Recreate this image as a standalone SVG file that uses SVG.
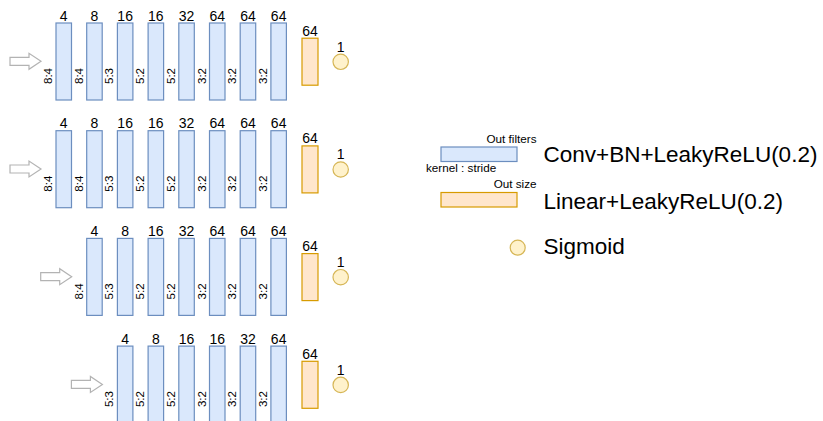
<svg xmlns="http://www.w3.org/2000/svg" width="823" height="421" viewBox="0 0 823 421">
<style>
text{font-family:"Liberation Sans",Arial,Helvetica,sans-serif;fill:#000}
.conv{fill:#dae8fc;stroke:#6c8ebf;stroke-width:1.2}
.lin{fill:#ffe6cc;stroke:#d79b00;stroke-width:1.2}
.sig{fill:#fff2cc;stroke:#d6b656;stroke-width:1.2}
.arr{fill:#fff;stroke:#b3b3b3;stroke-width:1.2}
.t{font-size:14px;text-anchor:middle}
.k{font-size:11.5px;text-anchor:middle}
.ls{font-size:11.7px}
.lb{font-size:22.5px}
</style>
<defs>
<path id="inarrow" class="arr" d="M0,-4 H19 V-8 L31,0 L19,8 V4 H0 Z"/>
</defs>
<rect width="823" height="421" fill="#fff"/>
<g id="connectors">
<use href="#inarrow" transform="translate(10,61.3)"/>
<use href="#inarrow" transform="translate(10,169)"/>
<use href="#inarrow" transform="translate(40.7,276.7)"/>
<use href="#inarrow" transform="translate(71.4,384.4)"/>
</g>
<!-- Row 1 -->
<g id="r1c1"><rect class="conv" x="56" y="23" width="15.5" height="77"/><text class="t" x="63.75" y="20.5">4</text><text class="k" transform="translate(52,76) rotate(-90)">8:4</text></g>
<g id="r1c2"><rect class="conv" x="86.7" y="23" width="15.5" height="77"/><text class="t" x="94.45" y="20.5">8</text><text class="k" transform="translate(82.7,76) rotate(-90)">8:4</text></g>
<g id="r1c3"><rect class="conv" x="117.4" y="23" width="15.5" height="77"/><text class="t" x="125.15" y="20.5">16</text><text class="k" transform="translate(113.4,76) rotate(-90)">5:3</text></g>
<g id="r1c4"><rect class="conv" x="148.1" y="23" width="15.5" height="77"/><text class="t" x="155.85" y="20.5">16</text><text class="k" transform="translate(144.1,76) rotate(-90)">5:2</text></g>
<g id="r1c5"><rect class="conv" x="178.8" y="23" width="15.5" height="77"/><text class="t" x="186.55" y="20.5">32</text><text class="k" transform="translate(174.8,76) rotate(-90)">5:2</text></g>
<g id="r1c6"><rect class="conv" x="209.5" y="23" width="15.5" height="77"/><text class="t" x="217.25" y="20.5">64</text><text class="k" transform="translate(205.5,76) rotate(-90)">3:2</text></g>
<g id="r1c7"><rect class="conv" x="240.2" y="23" width="15.5" height="77"/><text class="t" x="247.95" y="20.5">64</text><text class="k" transform="translate(236.2,76) rotate(-90)">3:2</text></g>
<g id="r1c8"><rect class="conv" x="270.9" y="23" width="15.5" height="77"/><text class="t" x="278.65" y="20.5">64</text><text class="k" transform="translate(266.9,76) rotate(-90)">3:2</text></g>
<g id="r1lin"><rect class="lin" x="302" y="38.2" width="16" height="47"/><text class="t" x="310" y="35.7">64</text></g>
<g id="r1sig"><circle class="sig" cx="340.7" cy="61.8" r="7.7"/><text class="t" x="340.7" y="51.6">1</text></g>
<!-- Row 2 -->
<g id="r2c1"><rect class="conv" x="56" y="130.7" width="15.5" height="77"/><text class="t" x="63.75" y="128.2">4</text><text class="k" transform="translate(52,183.7) rotate(-90)">8:4</text></g>
<g id="r2c2"><rect class="conv" x="86.7" y="130.7" width="15.5" height="77"/><text class="t" x="94.45" y="128.2">8</text><text class="k" transform="translate(82.7,183.7) rotate(-90)">8:4</text></g>
<g id="r2c3"><rect class="conv" x="117.4" y="130.7" width="15.5" height="77"/><text class="t" x="125.15" y="128.2">16</text><text class="k" transform="translate(113.4,183.7) rotate(-90)">5:3</text></g>
<g id="r2c4"><rect class="conv" x="148.1" y="130.7" width="15.5" height="77"/><text class="t" x="155.85" y="128.2">16</text><text class="k" transform="translate(144.1,183.7) rotate(-90)">5:2</text></g>
<g id="r2c5"><rect class="conv" x="178.8" y="130.7" width="15.5" height="77"/><text class="t" x="186.55" y="128.2">32</text><text class="k" transform="translate(174.8,183.7) rotate(-90)">5:2</text></g>
<g id="r2c6"><rect class="conv" x="209.5" y="130.7" width="15.5" height="77"/><text class="t" x="217.25" y="128.2">64</text><text class="k" transform="translate(205.5,183.7) rotate(-90)">3:2</text></g>
<g id="r2c7"><rect class="conv" x="240.2" y="130.7" width="15.5" height="77"/><text class="t" x="247.95" y="128.2">64</text><text class="k" transform="translate(236.2,183.7) rotate(-90)">3:2</text></g>
<g id="r2c8"><rect class="conv" x="270.9" y="130.7" width="15.5" height="77"/><text class="t" x="278.65" y="128.2">64</text><text class="k" transform="translate(266.9,183.7) rotate(-90)">3:2</text></g>
<g id="r2lin"><rect class="lin" x="302" y="145.9" width="16" height="47"/><text class="t" x="310" y="143.4">64</text></g>
<g id="r2sig"><circle class="sig" cx="340.7" cy="169.5" r="7.7"/><text class="t" x="340.7" y="159.3">1</text></g>
<!-- Row 3 -->
<g id="r3c2"><rect class="conv" x="86.7" y="238.4" width="15.5" height="77"/><text class="t" x="94.45" y="235.9">4</text><text class="k" transform="translate(82.7,291.4) rotate(-90)">8:4</text></g>
<g id="r3c3"><rect class="conv" x="117.4" y="238.4" width="15.5" height="77"/><text class="t" x="125.15" y="235.9">8</text><text class="k" transform="translate(113.4,291.4) rotate(-90)">5:3</text></g>
<g id="r3c4"><rect class="conv" x="148.1" y="238.4" width="15.5" height="77"/><text class="t" x="155.85" y="235.9">16</text><text class="k" transform="translate(144.1,291.4) rotate(-90)">5:2</text></g>
<g id="r3c5"><rect class="conv" x="178.8" y="238.4" width="15.5" height="77"/><text class="t" x="186.55" y="235.9">32</text><text class="k" transform="translate(174.8,291.4) rotate(-90)">5:2</text></g>
<g id="r3c6"><rect class="conv" x="209.5" y="238.4" width="15.5" height="77"/><text class="t" x="217.25" y="235.9">64</text><text class="k" transform="translate(205.5,291.4) rotate(-90)">3:2</text></g>
<g id="r3c7"><rect class="conv" x="240.2" y="238.4" width="15.5" height="77"/><text class="t" x="247.95" y="235.9">64</text><text class="k" transform="translate(236.2,291.4) rotate(-90)">3:2</text></g>
<g id="r3c8"><rect class="conv" x="270.9" y="238.4" width="15.5" height="77"/><text class="t" x="278.65" y="235.9">64</text><text class="k" transform="translate(266.9,291.4) rotate(-90)">3:2</text></g>
<g id="r3lin"><rect class="lin" x="302" y="253.6" width="16" height="47"/><text class="t" x="310" y="251.1">64</text></g>
<g id="r3sig"><circle class="sig" cx="340.7" cy="277.2" r="7.7"/><text class="t" x="340.7" y="267">1</text></g>
<!-- Row 4 -->
<g id="r4c3"><rect class="conv" x="117.4" y="346.1" width="15.5" height="77"/><text class="t" x="125.15" y="343.6">4</text><text class="k" transform="translate(113.4,399.1) rotate(-90)">5:3</text></g>
<g id="r4c4"><rect class="conv" x="148.1" y="346.1" width="15.5" height="77"/><text class="t" x="155.85" y="343.6">8</text><text class="k" transform="translate(144.1,399.1) rotate(-90)">5:2</text></g>
<g id="r4c5"><rect class="conv" x="178.8" y="346.1" width="15.5" height="77"/><text class="t" x="186.55" y="343.6">16</text><text class="k" transform="translate(174.8,399.1) rotate(-90)">5:2</text></g>
<g id="r4c6"><rect class="conv" x="209.5" y="346.1" width="15.5" height="77"/><text class="t" x="217.25" y="343.6">16</text><text class="k" transform="translate(205.5,399.1) rotate(-90)">3:2</text></g>
<g id="r4c7"><rect class="conv" x="240.2" y="346.1" width="15.5" height="77"/><text class="t" x="247.95" y="343.6">32</text><text class="k" transform="translate(236.2,399.1) rotate(-90)">3:2</text></g>
<g id="r4c8"><rect class="conv" x="270.9" y="346.1" width="15.5" height="77"/><text class="t" x="278.65" y="343.6">64</text><text class="k" transform="translate(266.9,399.1) rotate(-90)">3:2</text></g>
<g id="r4lin"><rect class="lin" x="302" y="361.3" width="16" height="47"/><text class="t" x="310" y="358.8">64</text></g>
<g id="r4sig"><circle class="sig" cx="340.7" cy="384.9" r="7.7"/><text class="t" x="340.7" y="374.7">1</text></g>
<!-- Legend -->
<g id="legend-conv"><rect class="conv" x="441" y="147" width="76" height="14.5"/><text class="ls" x="536.5" y="142.5" text-anchor="end">Out filters</text><text class="ls" x="426" y="171.5">kernel : stride</text><text class="lb" x="543.5" y="162">Conv+BN+LeakyReLU(0.2)</text></g>
<g id="legend-linear"><rect class="lin" x="441" y="192.5" width="76" height="14.5"/><text class="ls" x="536.5" y="188" text-anchor="end">Out size</text><text class="lb" x="543.5" y="208.5">Linear+LeakyReLU(0.2)</text></g>
<g id="legend-sigmoid"><circle class="sig" cx="517.7" cy="247.7" r="7.5"/><text class="lb" x="543.5" y="254">Sigmoid</text></g>
</svg>
